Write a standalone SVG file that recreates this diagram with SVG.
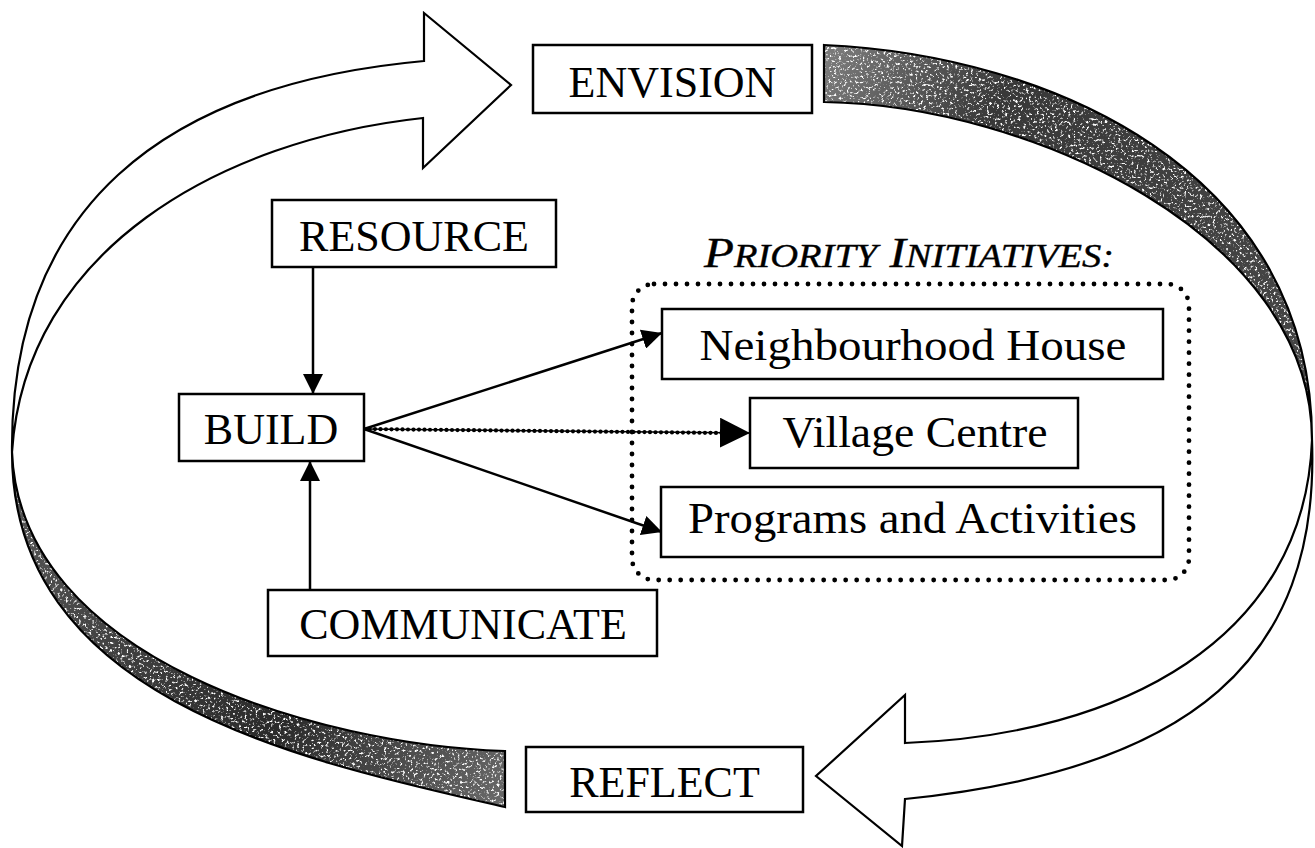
<svg xmlns="http://www.w3.org/2000/svg" width="1315" height="848" viewBox="0 0 1315 848">
<style>
  .box{fill:#fff;stroke:#000;stroke-width:2.5}
  .lbl{font-family:"Liberation Serif","Times New Roman",serif;font-size:44px;fill:#000;text-anchor:middle}
  .lbl2{font-family:"Liberation Serif","Times New Roman",serif;font-size:45px;fill:#000;text-anchor:middle}
  .cyc{stroke:#000;stroke-width:2.2;stroke-linejoin:miter}
  .edge{stroke:#000;stroke-width:2.5;fill:none}
  .rib-line{fill:none;stroke:#000;stroke-width:2.2}
</style>
<defs>
  <marker id="ah" markerUnits="userSpaceOnUse" viewBox="0 0 20 20" markerWidth="20" markerHeight="20" refX="20" refY="10" orient="auto">
    <path d="M0,0 L20,10 L0,20 Z" fill="#000"/>
  </marker>
  <marker id="ahL" markerUnits="userSpaceOnUse" viewBox="0 0 30 30" markerWidth="30" markerHeight="30" refX="30" refY="15" orient="auto">
    <path d="M0,0 L30,15 L0,30 Z" fill="#000"/>
  </marker>
  <filter id="grain" x="0" y="0" width="1" height="1" color-interpolation-filters="sRGB">
    <feTurbulence type="fractalNoise" baseFrequency="0.38" numOctaves="3" seed="5" result="n"/>
    <feColorMatrix in="n" type="matrix" values="0 0 0 0 1  0 0 0 0 1  0 0 0 0 1  5.5 0 0 0 -3.1" result="w"/>
    <feComposite in="w" in2="SourceGraphic" operator="in"/>
  </filter>
  <linearGradient id="gTop" gradientUnits="userSpaceOnUse" x1="824" y1="70" x2="1250" y2="300">
    <stop offset="0" stop-color="#7a7a7a"/>
    <stop offset="0.35" stop-color="#383838"/>
    <stop offset="1" stop-color="#444"/>
  </linearGradient>
  <linearGradient id="gBot" gradientUnits="userSpaceOnUse" x1="20" y1="500" x2="505" y2="780">
    <stop offset="0" stop-color="#555"/>
    <stop offset="0.6" stop-color="#2a2a2a"/>
    <stop offset="1" stop-color="#666"/>
  </linearGradient>
  <path id="ribTop" d="M824,45 C1050,55 1312,170 1312,440 C1312,235 1030,105 824,102 Z"/>
  <path id="ribBot" d="M12,452 C12,700 300,760 505,807 L505,751 C320,745 20,660 12,452 Z"/>
</defs>

<g id="cycle">
  <g id="ribbon-top">
    <use href="#ribTop" fill="url(#gTop)"/>
    <use href="#ribTop" fill="#000" filter="url(#grain)"/>
    <use href="#ribTop" class="rib-line"/>
  </g>
  <g id="ribbon-bottom">
    <use href="#ribBot" fill="url(#gBot)"/>
    <use href="#ribBot" fill="#000" filter="url(#grain)"/>
    <use href="#ribBot" class="rib-line"/>
  </g>
  <path id="arrow-to-envision" class="cyc" fill="#fff" d="M12,452 C10,210 160,85 424,61 L424,13 L511,85 L423,168 L423,118 C220,140 25,250 12,452 Z"/>
  <path id="arrow-to-reflect" class="cyc" fill="#fff" d="M1312,440 C1305,640 1120,735 905,743 L905,695 L816,776 L902,846 L905,799 C1190,770 1320,660 1312,440 Z"/>
</g>

<g id="priority-initiatives">
  <rect x="632" y="284" width="557" height="296" rx="22" fill="none" stroke="#000" stroke-width="4.8" stroke-linecap="round" stroke-dasharray="0 11"/>
  <text x="704" y="267" font-family="Liberation Serif,'Times New Roman',serif" font-style="italic" fill="#000" stroke="#000" stroke-width="0.4" textLength="410" lengthAdjust="spacingAndGlyphs"><tspan font-size="42">P</tspan><tspan font-size="33">RIORITY</tspan><tspan font-size="42"> I</tspan><tspan font-size="33">NITIATIVES:</tspan></text>
</g>

<g id="connectors">
  <path id="edge-resource-build" class="edge" d="M313,267 L313,394" marker-end="url(#ah)"/>
  <path id="edge-communicate-build" class="edge" d="M310,590 L310,461" marker-end="url(#ah)"/>
  <path id="edge-build-neighbourhood" class="edge" d="M364,429 L662,333" marker-end="url(#ah)"/>
  <path id="edge-build-programs" class="edge" d="M364,429 L662,532" marker-end="url(#ah)"/>
  <g id="edge-build-village">
    <path d="M364,429 L750,433" fill="none" stroke="#000" stroke-width="1.5" marker-end="url(#ahL)"/>
    <path d="M364,429 L724,433" fill="none" stroke="#000" stroke-width="4.2" stroke-linecap="round" stroke-dasharray="0 5.5"/>
  </g>
</g>

<g id="node-envision">
  <rect class="box" x="533" y="45" width="279" height="68"/>
  <text class="lbl" x="672.5" y="97">ENVISION</text>
</g>
<g id="node-resource">
  <rect class="box" x="272" y="200" width="284" height="67"/>
  <text class="lbl" x="414" y="251">RESOURCE</text>
</g>
<g id="node-build">
  <rect class="box" x="179" y="394" width="185" height="67"/>
  <text class="lbl" x="271" y="444">BUILD</text>
</g>
<g id="node-communicate">
  <rect class="box" x="268" y="590" width="389" height="66"/>
  <text class="lbl" x="463" y="639">COMMUNICATE</text>
</g>
<g id="node-reflect">
  <rect class="box" x="526" y="747" width="277" height="65"/>
  <text class="lbl" x="664.5" y="797">REFLECT</text>
</g>
<g id="node-neighbourhood-house">
  <rect class="box" x="662" y="309" width="501" height="70"/>
  <text class="lbl2" x="913" y="360" textLength="427" lengthAdjust="spacingAndGlyphs">Neighbourhood House</text>
</g>
<g id="node-village-centre">
  <rect class="box" x="750" y="398" width="328" height="70"/>
  <text class="lbl2" x="915" y="447" textLength="265" lengthAdjust="spacingAndGlyphs">Village Centre</text>
</g>
<g id="node-programs-activities">
  <rect class="box" x="661" y="487" width="502" height="70"/>
  <text class="lbl2" x="912.5" y="533" textLength="449" lengthAdjust="spacingAndGlyphs">Programs and Activities</text>
</g>
</svg>
